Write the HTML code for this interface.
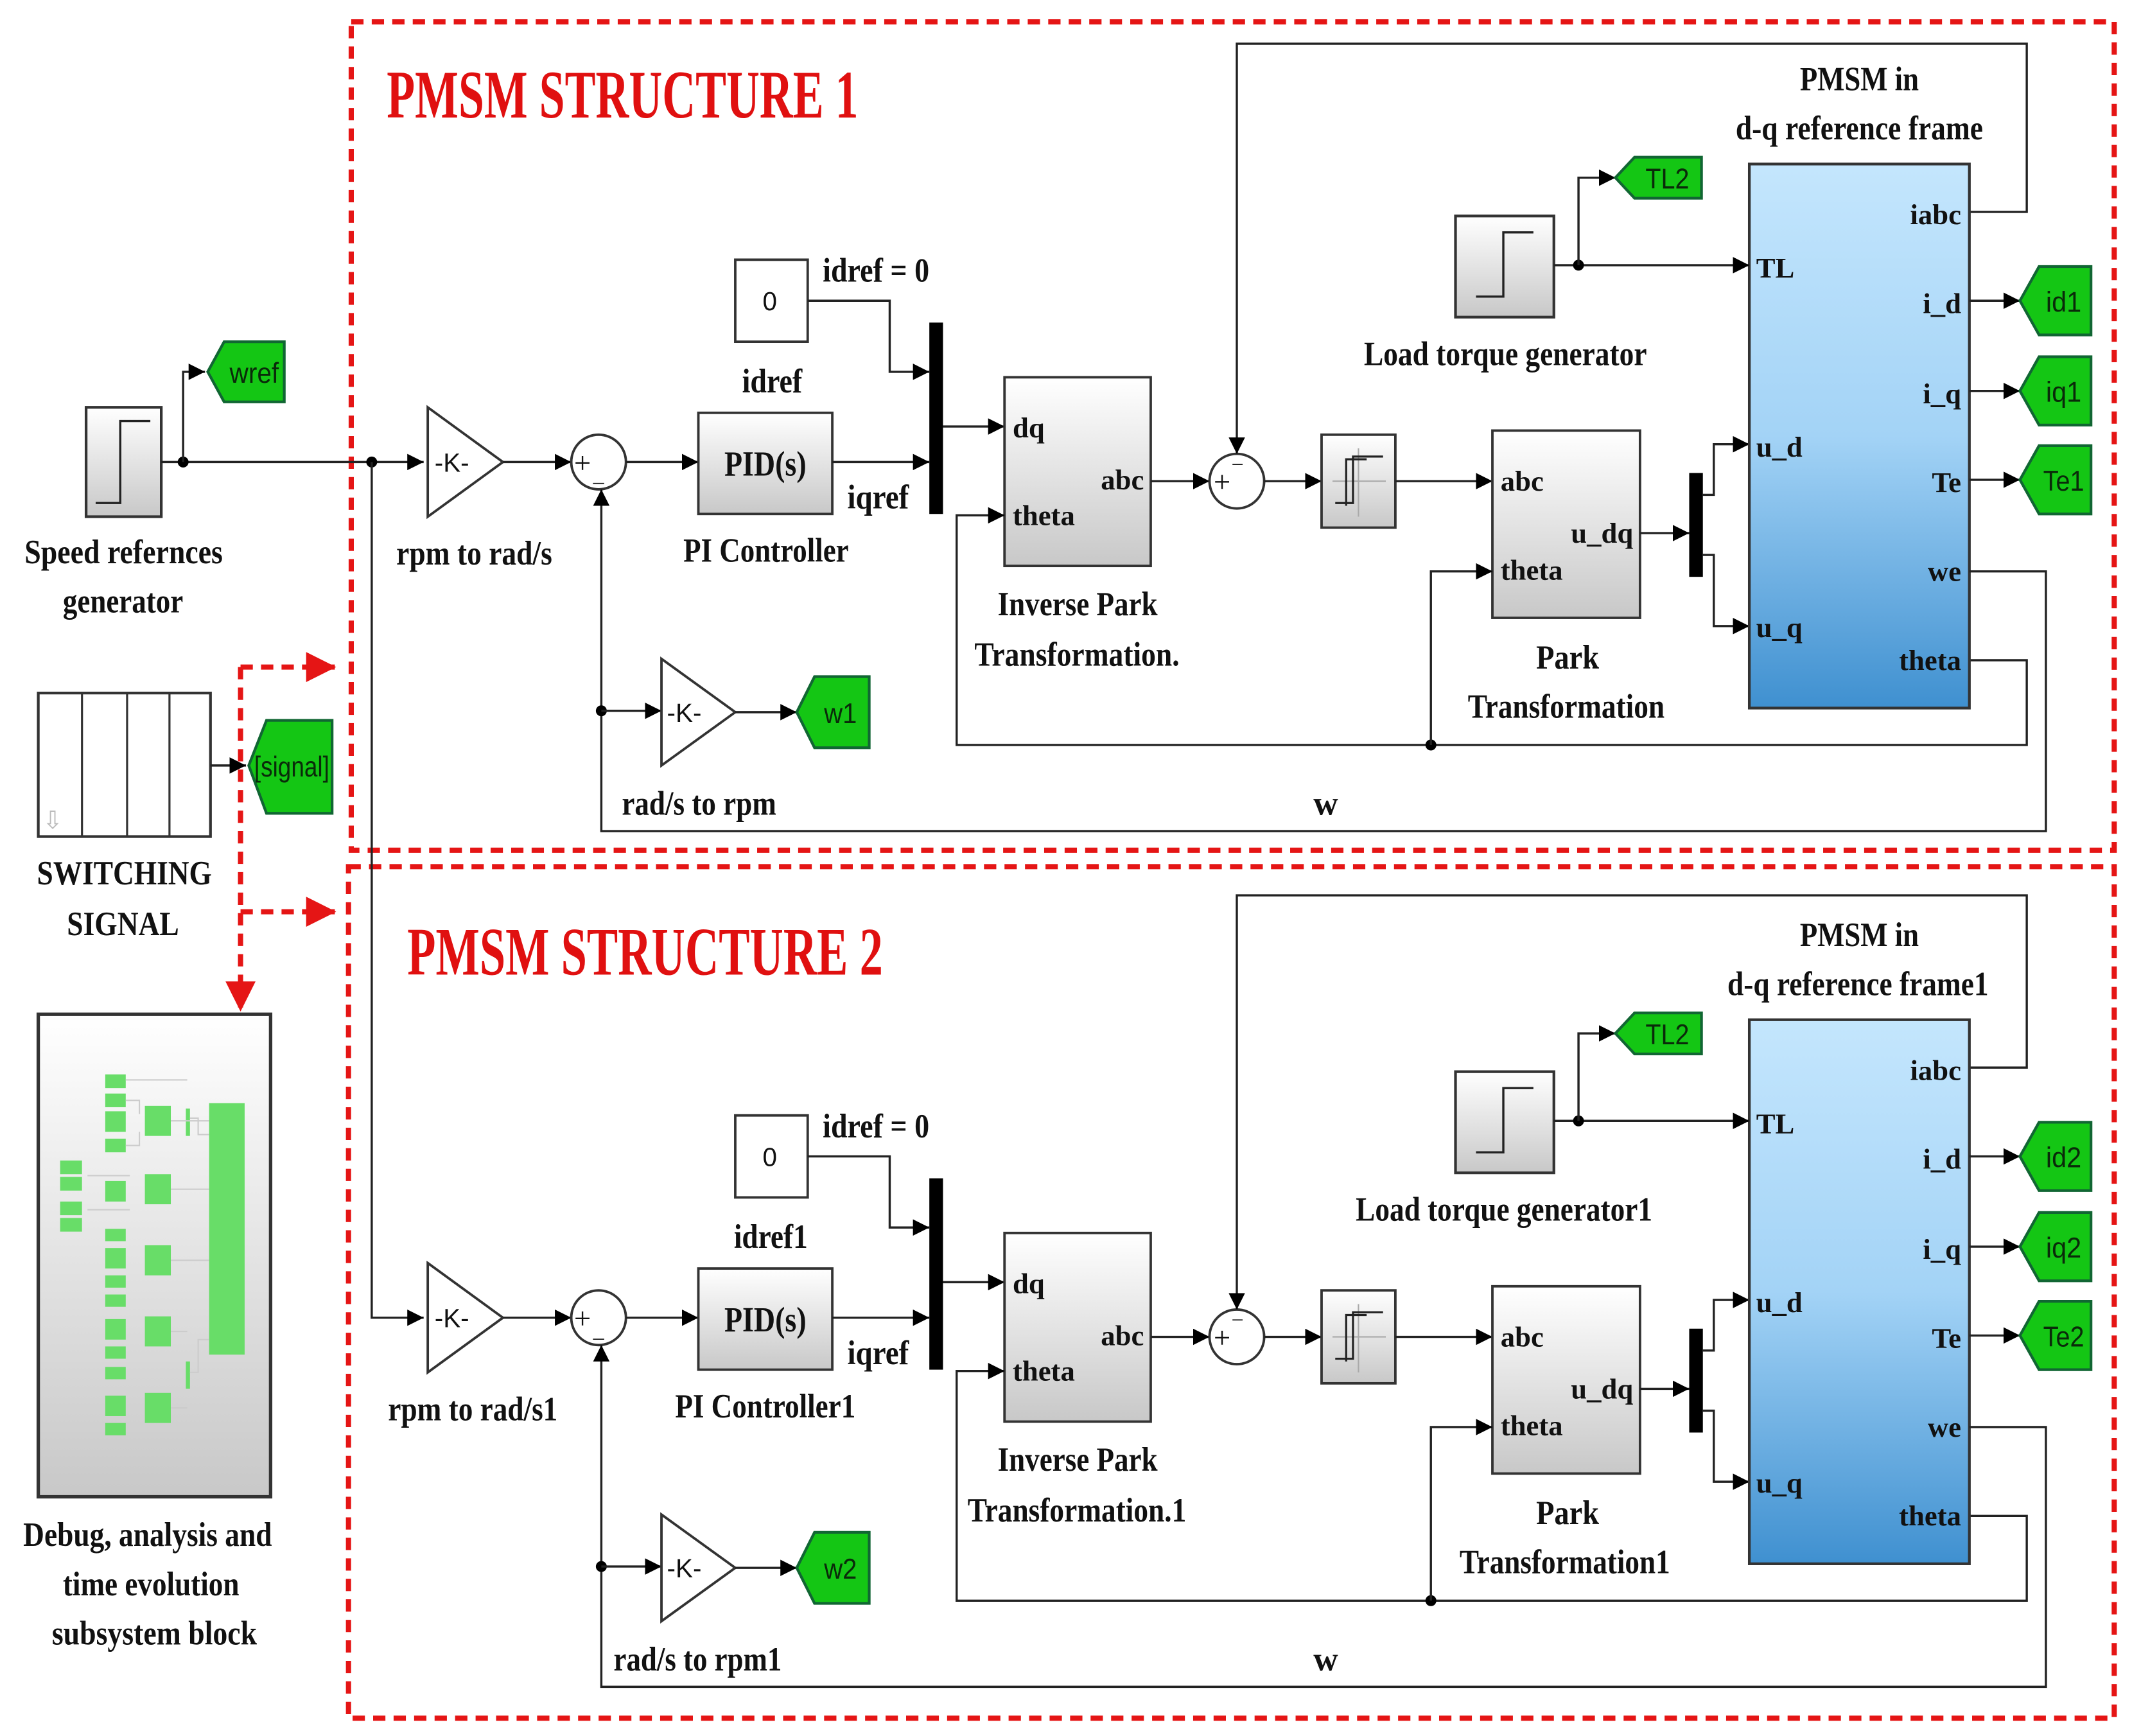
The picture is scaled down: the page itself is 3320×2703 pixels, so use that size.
<!DOCTYPE html>
<html><head><meta charset="utf-8">
<style>
html,body{margin:0;padding:0;background:#fff;}
svg{display:block;}
text{font-family:"Liberation Serif",serif;font-weight:bold;fill:#111;}
.lb{font-size:25px;}
.pt{font-size:21px;}
.r{text-anchor:end;}
.tg{font-family:"Liberation Sans",sans-serif;font-weight:normal;font-size:21px;fill:#0a2a0a;}
.ti{font-size:50px;fill:#e01010;}
.k{font-family:"Liberation Sans",sans-serif;font-weight:normal;font-size:19px;}
.w{stroke:#222;stroke-width:1.6;fill:none;}
.rd{stroke:#e51515;stroke-width:3.8;fill:none;stroke-dasharray:9,6;}
</style></head>
<body>
<svg width="3320" height="2703" viewBox="0 0 1560 1270" preserveAspectRatio="none" xmlns="http://www.w3.org/2000/svg">
<defs>
<marker id="a" viewBox="0 0 10 10" refX="10" refY="5" markerWidth="12" markerHeight="12" markerUnits="userSpaceOnUse" orient="auto"><path d="M0,0L10,5L0,10z" fill="#000"/></marker>
<marker id="ar" viewBox="0 0 10 10" refX="10" refY="5" markerWidth="22" markerHeight="22" markerUnits="userSpaceOnUse" orient="auto"><path d="M0,0L10,5L0,10z" fill="#e51515"/></marker>
<linearGradient id="gg" x1="0" y1="0" x2="0" y2="1"><stop offset="0" stop-color="#ffffff"/><stop offset="1" stop-color="#c8c8c8"/></linearGradient>
<linearGradient id="gb" x1="0" y1="0" x2="0" y2="1"><stop offset="0" stop-color="#c4e6fd"/><stop offset="0.5" stop-color="#a3d3f6"/><stop offset="1" stop-color="#3f90d0"/></linearGradient>
</defs>

<rect class="rd" x="257" y="16" width="1290" height="606"/>
<rect class="rd" x="255" y="634" width="1292" height="623"/>
<text class="ti" x="283" y="86" textLength="345" lengthAdjust="spacingAndGlyphs">PMSM STRUCTURE 1</text>
<text class="ti" x="298" y="713" textLength="348" lengthAdjust="spacingAndGlyphs">PMSM STRUCTURE 2</text>

<path class="rd" d="M176,488 L246,488" marker-end="url(#ar)"/>
<path class="rd" d="M176,488 L176,740" marker-end="url(#ar)"/>
<path class="rd" d="M176,667 L246,667" marker-end="url(#ar)"/>

<rect x="63" y="298" width="55" height="80" fill="url(#gg)" stroke="#333" stroke-width="2"/>
<path d="M70,368 H88 V308 H110" class="w"/>
<text class="lb" x="18" y="412" textLength="145" lengthAdjust="spacingAndGlyphs">Speed refernces</text>
<text class="lb" x="46" y="448" textLength="88" lengthAdjust="spacingAndGlyphs">generator</text>
<path class="w" d="M118,338 H310" marker-end="url(#a)"/>
<circle cx="134" cy="338" r="4" fill="#000"/>
<path class="w" d="M134,338 V272 H150" marker-end="url(#a)"/>
<polygon points="152,272 164,250 208,250 208,294 164,294" fill="#14c614" stroke="#163" stroke-width="2"/>
<text class="tg" x="168" y="280" textLength="36" lengthAdjust="spacingAndGlyphs">wref</text>
<circle cx="272" cy="338" r="4" fill="#000"/>
<path class="w" d="M272,338 V964 H310" marker-end="url(#a)"/>

<rect x="28" y="507" width="126" height="105" fill="#fff" stroke="#333" stroke-width="2"/>
<path d="M60,507V612M93,507V612M124,507V612" stroke="#333" stroke-width="1.5"/>
<text x="31" y="606" style="font-size:18px;fill:#bbb;font-family:'DejaVu Sans',sans-serif;font-weight:normal">⇩</text>
<path class="w" d="M154,560 H180" marker-end="url(#a)"/>
<polygon points="182,560 195,527 243,527 243,595 195,595" fill="#14c614" stroke="#163" stroke-width="2"/>
<text class="tg" x="186" y="568" textLength="55" lengthAdjust="spacingAndGlyphs">[signal]</text>
<text class="lb" x="27" y="647" textLength="128" lengthAdjust="spacingAndGlyphs">SWITCHING</text>
<text class="lb" x="49" y="684" textLength="82" lengthAdjust="spacingAndGlyphs">SIGNAL</text>

<rect x="28" y="742" width="170" height="353" fill="url(#gg)" stroke="#333" stroke-width="2.5"/>
<g fill="#68dd68">
<rect x="153" y="807" width="26" height="184"/>
<rect x="106" y="809" width="19" height="22"/><rect x="106" y="859" width="19" height="22"/>
<rect x="106" y="911" width="19" height="22"/><rect x="106" y="963" width="19" height="22"/><rect x="106" y="1019" width="19" height="22"/>
<rect x="77" y="786" width="15" height="10"/><rect x="77" y="800" width="15" height="10"/><rect x="77" y="813" width="15" height="15"/><rect x="77" y="833" width="15" height="10"/>
<rect x="77" y="864" width="15" height="15"/>
<rect x="77" y="899" width="15" height="9"/><rect x="77" y="913" width="15" height="15"/><rect x="77" y="933" width="15" height="9"/><rect x="77" y="947" width="15" height="9"/>
<rect x="77" y="965" width="15" height="15"/><rect x="77" y="985" width="15" height="9"/><rect x="77" y="1000" width="15" height="9"/><rect x="77" y="1021" width="15" height="15"/><rect x="77" y="1041" width="15" height="9"/>
<rect x="44" y="849" width="16" height="10"/><rect x="44" y="861" width="16" height="10"/><rect x="44" y="879" width="16" height="10"/><rect x="44" y="891" width="16" height="10"/>
<rect x="136" y="811" width="3" height="20"/><rect x="136" y="996" width="3" height="20"/>
</g>
<path d="M92,790H137M125,820H153M125,870H153M125,922H153M125,974H137M125,1030H137M92,805H102V815M92,838H102V828M64,860H95M64,885H95M139,818H145V830H153M139,1004H145V980H153" stroke="#ccc" stroke-width="1" fill="none"/>
<text class="lb" x="17" y="1131" textLength="182" lengthAdjust="spacingAndGlyphs">Debug, analysis and</text>
<text class="lb" x="46" y="1167" textLength="129" lengthAdjust="spacingAndGlyphs">time evolution</text>
<text class="lb" x="38" y="1203" textLength="150" lengthAdjust="spacingAndGlyphs">subsystem block</text>

<!-- STRUCTURE 1 -->
<g>
<polygon points="313,298 368,338 313,378" fill="#fff" stroke="#333" stroke-width="1.8"/>
<text class="k" x="318" y="345">-K-</text>
<text class="lb" x="290" y="413" textLength="114" lengthAdjust="spacingAndGlyphs">rpm to rad/s</text>
<path class="w" d="M368,338 H418" marker-end="url(#a)"/>
<circle cx="438" cy="338" r="20" fill="#fff" stroke="#333" stroke-width="1.8"/>
<text x="420" y="346" style="font-size:22px;font-weight:normal">+</text><text x="434" y="352" style="font-size:16px;font-weight:normal">_</text>
<path class="w" d="M458,338 H511" marker-end="url(#a)"/>
<rect x="511" y="302" width="98" height="74" fill="url(#gg)" stroke="#333" stroke-width="1.8"/>
<text x="530" y="348" style="font-size:26px" textLength="60" lengthAdjust="spacingAndGlyphs">PID(s)</text>
<text class="lb" x="500" y="411" textLength="121" lengthAdjust="spacingAndGlyphs">PI Controller</text>
<path class="w" d="M609,338 H680" marker-end="url(#a)"/>
<text class="lb" x="620" y="372" textLength="45" lengthAdjust="spacingAndGlyphs">iqref</text>
<rect x="538" y="190" width="53" height="60" fill="#fff" stroke="#333" stroke-width="1.8"/>
<text class="k" x="558" y="227">0</text>
<text class="lb" x="602" y="206" textLength="78" lengthAdjust="spacingAndGlyphs">idref = 0</text>
<text class="lb" x="543" y="287" textLength="44" lengthAdjust="spacingAndGlyphs">idref</text>
<path class="w" d="M591,220 H651 V272 H680" marker-end="url(#a)"/>
<rect x="680" y="236" width="10" height="140" fill="#000"/>
<path class="w" d="M690,312 H735" marker-end="url(#a)"/>
<rect x="735" y="276" width="107" height="138" fill="url(#gg)" stroke="#333" stroke-width="1.8"/>
<text class="pt" x="741" y="320">dq</text><text class="pt" x="741" y="384">theta</text><text class="pt r" x="837" y="358">abc</text>
<text class="lb" x="730" y="450" textLength="117" lengthAdjust="spacingAndGlyphs">Inverse Park</text>
<text class="lb" x="713" y="487" textLength="150" lengthAdjust="spacingAndGlyphs">Transformation.</text>
<path class="w" d="M842,352 H885" marker-end="url(#a)"/>
<circle cx="905" cy="352" r="20" fill="#fff" stroke="#333" stroke-width="1.8"/>
<text x="888" y="360" style="font-size:22px;font-weight:normal">+</text><text x="901" y="345" style="font-size:16px;font-weight:normal">−</text>
<path class="w" d="M1441,155 H1483 V32 H905 V332" marker-end="url(#a)"/>
<path class="w" d="M925,352 H967" marker-end="url(#a)"/>
<rect x="967" y="318" width="54" height="68" fill="url(#gg)" stroke="#333" stroke-width="1.8"/>
<path d="M975,352H1014M994,328V378" stroke="#aaa" stroke-width="1"/>
<path d="M977,368H990V334H1012M985,370V336H1000" stroke="#222" stroke-width="1.5" fill="none"/>
<path class="w" d="M1021,352 H1092" marker-end="url(#a)"/>
<rect x="1092" y="315" width="108" height="137" fill="url(#gg)" stroke="#333" stroke-width="1.8"/>
<text class="pt" x="1098" y="359">abc</text><text class="pt" x="1098" y="424">theta</text><text class="pt r" x="1195" y="397">u_dq</text>
<text class="lb" x="1124" y="489" textLength="46" lengthAdjust="spacingAndGlyphs">Park</text>
<text class="lb" x="1074" y="525" textLength="144" lengthAdjust="spacingAndGlyphs">Transformation</text>
<path class="w" d="M1200,390 H1236" marker-end="url(#a)"/>
<rect x="1236" y="346" width="10" height="76" fill="#000"/>
<path class="w" d="M1246,362 H1254 V325 H1280" marker-end="url(#a)"/>
<path class="w" d="M1246,406 H1254 V458 H1280" marker-end="url(#a)"/>
<path class="w" d="M1441,483 H1483 V545 H700 V377 H735" marker-end="url(#a)"/>
<circle cx="1047" cy="545" r="4" fill="#000"/>
<path class="w" d="M1047,545 V418 H1092" marker-end="url(#a)"/>
<rect x="1280" y="120" width="161" height="398" fill="url(#gb)" stroke="#333" stroke-width="2"/>
<text class="lb" x="1317" y="66" textLength="87" lengthAdjust="spacingAndGlyphs">PMSM in</text>
<text class="lb" x="1270" y="102" textLength="181" lengthAdjust="spacingAndGlyphs">d-q reference frame</text>
<text class="pt" x="1285" y="203">TL</text><text class="pt" x="1285" y="334">u_d</text><text class="pt" x="1285" y="466">u_q</text>
<text class="pt r" x="1435" y="164">iabc</text><text class="pt r" x="1435" y="229">i_d</text><text class="pt r" x="1435" y="295">i_q</text>
<text class="pt r" x="1435" y="360">Te</text><text class="pt r" x="1435" y="425">we</text><text class="pt r" x="1435" y="490">theta</text>
<path class="w" d="M1441,220 H1478" marker-end="url(#a)"/>
<path class="w" d="M1441,286 H1478" marker-end="url(#a)"/>
<path class="w" d="M1441,351 H1478" marker-end="url(#a)"/>
<polygon points="1478,220 1492,195 1530,195 1530,245 1492,245" fill="#14c614" stroke="#163" stroke-width="2"/>
<polygon points="1478,286 1492,261 1530,261 1530,311 1492,311" fill="#14c614" stroke="#163" stroke-width="2"/>
<polygon points="1478,351 1492,326 1530,326 1530,376 1492,376" fill="#14c614" stroke="#163" stroke-width="2"/>
<text class="tg" x="1497" y="228" textLength="26" lengthAdjust="spacingAndGlyphs">id1</text><text class="tg" x="1497" y="294" textLength="26" lengthAdjust="spacingAndGlyphs">iq1</text><text class="tg" x="1495" y="359" textLength="30" lengthAdjust="spacingAndGlyphs">Te1</text>
<path class="w" d="M1441,418 H1497 V608 H440 V358" marker-end="url(#a)"/>
<circle cx="440" cy="520" r="4" fill="#000"/>
<path class="w" d="M440,520 H484" marker-end="url(#a)"/>
<polygon points="484,482 538,521 484,560" fill="#fff" stroke="#333" stroke-width="1.8"/>
<text class="k" x="488" y="528">-K-</text>
<path class="w" d="M538,521 H583" marker-end="url(#a)"/>
<polygon points="583,521 596,495 636,495 636,547 596,547" fill="#14c614" stroke="#163" stroke-width="2"/>
<text class="tg" x="603" y="529" textLength="24" lengthAdjust="spacingAndGlyphs">w1</text>
<text class="lb" x="455" y="596" textLength="113" lengthAdjust="spacingAndGlyphs">rad/s to rpm</text>
<text class="lb" x="961" y="596">w</text>
<rect x="1065" y="158" width="72" height="74" fill="url(#gg)" stroke="#333" stroke-width="2"/>
<path d="M1080,217 H1100 V170 H1122" class="w"/>
<path class="w" d="M1137,194 H1280" marker-end="url(#a)"/>
<circle cx="1155" cy="194" r="4" fill="#000"/>
<path class="w" d="M1155,194 V130 H1182" marker-end="url(#a)"/>
<polygon points="1182,130 1196,115 1245,115 1245,145 1196,145" fill="#14c614" stroke="#163" stroke-width="2"/>
<text class="tg" x="1204" y="138" textLength="32" lengthAdjust="spacingAndGlyphs">TL2</text>
<text class="lb" x="998" y="267" textLength="207" lengthAdjust="spacingAndGlyphs">Load torque generator</text>
</g>

<!-- STRUCTURE 2 -->
<g transform="translate(0,626)">
<polygon points="313,298 368,338 313,378" fill="#fff" stroke="#333" stroke-width="1.8"/>
<text class="k" x="318" y="345">-K-</text>
<text class="lb" x="284" y="413" textLength="124" lengthAdjust="spacingAndGlyphs">rpm to rad/s1</text>
<path class="w" d="M368,338 H418" marker-end="url(#a)"/>
<circle cx="438" cy="338" r="20" fill="#fff" stroke="#333" stroke-width="1.8"/>
<text x="420" y="346" style="font-size:22px;font-weight:normal">+</text><text x="434" y="352" style="font-size:16px;font-weight:normal">_</text>
<path class="w" d="M458,338 H511" marker-end="url(#a)"/>
<rect x="511" y="302" width="98" height="74" fill="url(#gg)" stroke="#333" stroke-width="1.8"/>
<text x="530" y="348" style="font-size:26px" textLength="60" lengthAdjust="spacingAndGlyphs">PID(s)</text>
<text class="lb" x="494" y="411" textLength="132" lengthAdjust="spacingAndGlyphs">PI Controller1</text>
<path class="w" d="M609,338 H680" marker-end="url(#a)"/>
<text class="lb" x="620" y="372" textLength="45" lengthAdjust="spacingAndGlyphs">iqref</text>
<rect x="538" y="190" width="53" height="60" fill="#fff" stroke="#333" stroke-width="1.8"/>
<text class="k" x="558" y="227">0</text>
<text class="lb" x="602" y="206" textLength="78" lengthAdjust="spacingAndGlyphs">idref = 0</text>
<text class="lb" x="537" y="287" textLength="54" lengthAdjust="spacingAndGlyphs">idref1</text>
<path class="w" d="M591,220 H651 V272 H680" marker-end="url(#a)"/>
<rect x="680" y="236" width="10" height="140" fill="#000"/>
<path class="w" d="M690,312 H735" marker-end="url(#a)"/>
<rect x="735" y="276" width="107" height="138" fill="url(#gg)" stroke="#333" stroke-width="1.8"/>
<text class="pt" x="741" y="320">dq</text><text class="pt" x="741" y="384">theta</text><text class="pt r" x="837" y="358">abc</text>
<text class="lb" x="730" y="450" textLength="117" lengthAdjust="spacingAndGlyphs">Inverse Park</text>
<text class="lb" x="708" y="487" textLength="160" lengthAdjust="spacingAndGlyphs">Transformation.1</text>
<path class="w" d="M842,352 H885" marker-end="url(#a)"/>
<circle cx="905" cy="352" r="20" fill="#fff" stroke="#333" stroke-width="1.8"/>
<text x="888" y="360" style="font-size:22px;font-weight:normal">+</text><text x="901" y="345" style="font-size:16px;font-weight:normal">−</text>
<path class="w" d="M1441,155 H1483 V29 H905 V332" marker-end="url(#a)"/>
<path class="w" d="M925,352 H967" marker-end="url(#a)"/>
<rect x="967" y="318" width="54" height="68" fill="url(#gg)" stroke="#333" stroke-width="1.8"/>
<path d="M975,352H1014M994,328V378" stroke="#aaa" stroke-width="1"/>
<path d="M977,368H990V334H1012M985,370V336H1000" stroke="#222" stroke-width="1.5" fill="none"/>
<path class="w" d="M1021,352 H1092" marker-end="url(#a)"/>
<rect x="1092" y="315" width="108" height="137" fill="url(#gg)" stroke="#333" stroke-width="1.8"/>
<text class="pt" x="1098" y="359">abc</text><text class="pt" x="1098" y="424">theta</text><text class="pt r" x="1195" y="397">u_dq</text>
<text class="lb" x="1124" y="489" textLength="46" lengthAdjust="spacingAndGlyphs">Park</text>
<text class="lb" x="1068" y="525" textLength="154" lengthAdjust="spacingAndGlyphs">Transformation1</text>
<path class="w" d="M1200,390 H1236" marker-end="url(#a)"/>
<rect x="1236" y="346" width="10" height="76" fill="#000"/>
<path class="w" d="M1246,362 H1254 V325 H1280" marker-end="url(#a)"/>
<path class="w" d="M1246,406 H1254 V458 H1280" marker-end="url(#a)"/>
<path class="w" d="M1441,483 H1483 V545 H700 V377 H735" marker-end="url(#a)"/>
<circle cx="1047" cy="545" r="4" fill="#000"/>
<path class="w" d="M1047,545 V418 H1092" marker-end="url(#a)"/>
<rect x="1280" y="120" width="161" height="398" fill="url(#gb)" stroke="#333" stroke-width="2"/>
<text class="lb" x="1317" y="66" textLength="87" lengthAdjust="spacingAndGlyphs">PMSM in</text>
<text class="lb" x="1264" y="102" textLength="191" lengthAdjust="spacingAndGlyphs">d-q reference frame1</text>
<text class="pt" x="1285" y="203">TL</text><text class="pt" x="1285" y="334">u_d</text><text class="pt" x="1285" y="466">u_q</text>
<text class="pt r" x="1435" y="164">iabc</text><text class="pt r" x="1435" y="229">i_d</text><text class="pt r" x="1435" y="295">i_q</text>
<text class="pt r" x="1435" y="360">Te</text><text class="pt r" x="1435" y="425">we</text><text class="pt r" x="1435" y="490">theta</text>
<path class="w" d="M1441,220 H1478" marker-end="url(#a)"/>
<path class="w" d="M1441,286 H1478" marker-end="url(#a)"/>
<path class="w" d="M1441,351 H1478" marker-end="url(#a)"/>
<polygon points="1478,220 1492,195 1530,195 1530,245 1492,245" fill="#14c614" stroke="#163" stroke-width="2"/>
<polygon points="1478,286 1492,261 1530,261 1530,311 1492,311" fill="#14c614" stroke="#163" stroke-width="2"/>
<polygon points="1478,351 1492,326 1530,326 1530,376 1492,376" fill="#14c614" stroke="#163" stroke-width="2"/>
<text class="tg" x="1497" y="228" textLength="26" lengthAdjust="spacingAndGlyphs">id2</text><text class="tg" x="1497" y="294" textLength="26" lengthAdjust="spacingAndGlyphs">iq2</text><text class="tg" x="1495" y="359" textLength="30" lengthAdjust="spacingAndGlyphs">Te2</text>
<path class="w" d="M1441,418 H1497 V608 H440 V358" marker-end="url(#a)"/>
<circle cx="440" cy="520" r="4" fill="#000"/>
<path class="w" d="M440,520 H484" marker-end="url(#a)"/>
<polygon points="484,482 538,521 484,560" fill="#fff" stroke="#333" stroke-width="1.8"/>
<text class="k" x="488" y="528">-K-</text>
<path class="w" d="M538,521 H583" marker-end="url(#a)"/>
<polygon points="583,521 596,495 636,495 636,547 596,547" fill="#14c614" stroke="#163" stroke-width="2"/>
<text class="tg" x="603" y="529" textLength="24" lengthAdjust="spacingAndGlyphs">w2</text>
<text class="lb" x="449" y="596" textLength="123" lengthAdjust="spacingAndGlyphs">rad/s to rpm1</text>
<text class="lb" x="961" y="596">w</text>
<rect x="1065" y="158" width="72" height="74" fill="url(#gg)" stroke="#333" stroke-width="2"/>
<path d="M1080,217 H1100 V170 H1122" class="w"/>
<path class="w" d="M1137,194 H1280" marker-end="url(#a)"/>
<circle cx="1155" cy="194" r="4" fill="#000"/>
<path class="w" d="M1155,194 V130 H1182" marker-end="url(#a)"/>
<polygon points="1182,130 1196,115 1245,115 1245,145 1196,145" fill="#14c614" stroke="#163" stroke-width="2"/>
<text class="tg" x="1204" y="138" textLength="32" lengthAdjust="spacingAndGlyphs">TL2</text>
<text class="lb" x="992" y="267" textLength="217" lengthAdjust="spacingAndGlyphs">Load torque generator1</text>
</g>
</svg>
</body></html>
